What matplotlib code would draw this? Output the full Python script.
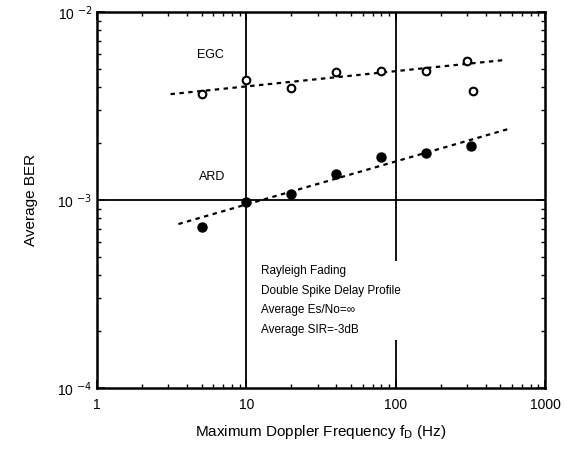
import numpy as np
import matplotlib.pyplot as plt
from matplotlib.ticker import LogLocator, NullFormatter, FixedLocator, FixedFormatter

plt.rcParams['font.family'] = ['Liberation Sans', 'DejaVu Sans']

# ─── data ─────────────────────────────────────────────────────────────────────
egc_fd = [5, 10, 20, 40, 80, 160, 300, 330]
egc_ber = [3.65e-3, 4.35e-3, 3.95e-3, 4.8e-3, 4.85e-3, 4.85e-3, 5.5e-3, 3.8e-3]

ard_fd = [5, 10, 20, 40, 80, 160, 320]
ard_ber = [7.2e-4, 9.8e-4, 1.08e-3, 1.37e-3, 1.7e-3, 1.78e-3, 1.94e-3]

# dotted trend lines (end points)
egc_fit_fd = [3.1, 520]
egc_fit_ber = [3.66e-3, 5.55e-3]
ard_fit_fd = [3.5, 580]
ard_fit_ber = [7.45e-4, 2.4e-3]

x_ticks = [1, 10, 100, 1000]
x_labels = ["1", "10", "100", "1000"]
y_ticks = [1e-4, 1e-3, 1e-2]
y_labels = [r"10 $^{-4}$", r"10 $^{-3}$", r"10 $^{-2}$"]

# ─── figure ──────────────────────────────────────────────────────────────────
fig = plt.figure(figsize=(5.75, 4.5), dpi=100)
ax = fig.add_axes([0.169, 0.138, 0.779, 0.835])
ax.set_xscale("log")
ax.set_yscale("log")
ax.set_xlim(1, 1000)
ax.set_ylim(1e-4, 1e-2)

# grid lines at decades
for xv in [10, 100]:
    ax.axvline(xv, color="black", lw=1.3, zorder=1)
ax.axhline(1e-3, color="black", lw=1.3, zorder=1)

ax.plot(egc_fit_fd, egc_fit_ber, linestyle=(0, (2, 2)), color="black", lw=1.6, zorder=2)
ax.plot(ard_fit_fd, ard_fit_ber, linestyle=(0, (2, 2)), color="black", lw=1.6, zorder=2)

ax.plot(egc_fd, egc_ber, "o", mfc="white", mec="black", mew=1.5, ms=5.5, zorder=3)
ax.plot(ard_fd, ard_ber, "o", color="black", ms=6.5, zorder=3)

ax.text(5.7, 5.9e-3, "EGC", fontsize=9, ha="center", va="center")
ax.text(5.9, 1.33e-3, "ARD", fontsize=9, ha="center", va="center")

# condition notes (white box hides the grid line behind them)
note = ("Rayleigh Fading\nDouble Spike Delay Profile\n"
        "Average Es/No=\u221e\nAverage SIR=-3dB")
ax.text(12.5, 4.5e-4, note, fontsize=8.5, ha="left", va="top", linespacing=1.85,
        bbox=dict(facecolor="white", edgecolor="none", pad=3), zorder=4)

# ticks
ax.xaxis.set_major_locator(FixedLocator(x_ticks))
ax.xaxis.set_major_formatter(FixedFormatter(x_labels))
ax.yaxis.set_major_locator(FixedLocator(y_ticks))
ax.yaxis.set_major_formatter(FixedFormatter(y_labels))
ax.xaxis.set_minor_locator(LogLocator(base=10, subs=np.arange(2, 10)))
ax.yaxis.set_minor_locator(LogLocator(base=10, subs=np.arange(2, 10)))
ax.xaxis.set_minor_formatter(NullFormatter())
ax.yaxis.set_minor_formatter(NullFormatter())
ax.tick_params(which="both", direction="in", top=True, right=True, labelsize=10)
ax.tick_params(which="major", length=6, width=1.2)
ax.tick_params(which="minor", length=3, width=1.0)
ax.tick_params(axis="x", pad=7)

for sp in ax.spines.values():
    sp.set_linewidth(1.8)

ax.set_xlabel(r"Maximum Doppler Frequency f$_{\mathrm{D}}$ (Hz)", fontsize=11, labelpad=8)
ax.set_ylabel("Average BER", fontsize=11, labelpad=14)

fig.savefig("out.png", dpi=100)
